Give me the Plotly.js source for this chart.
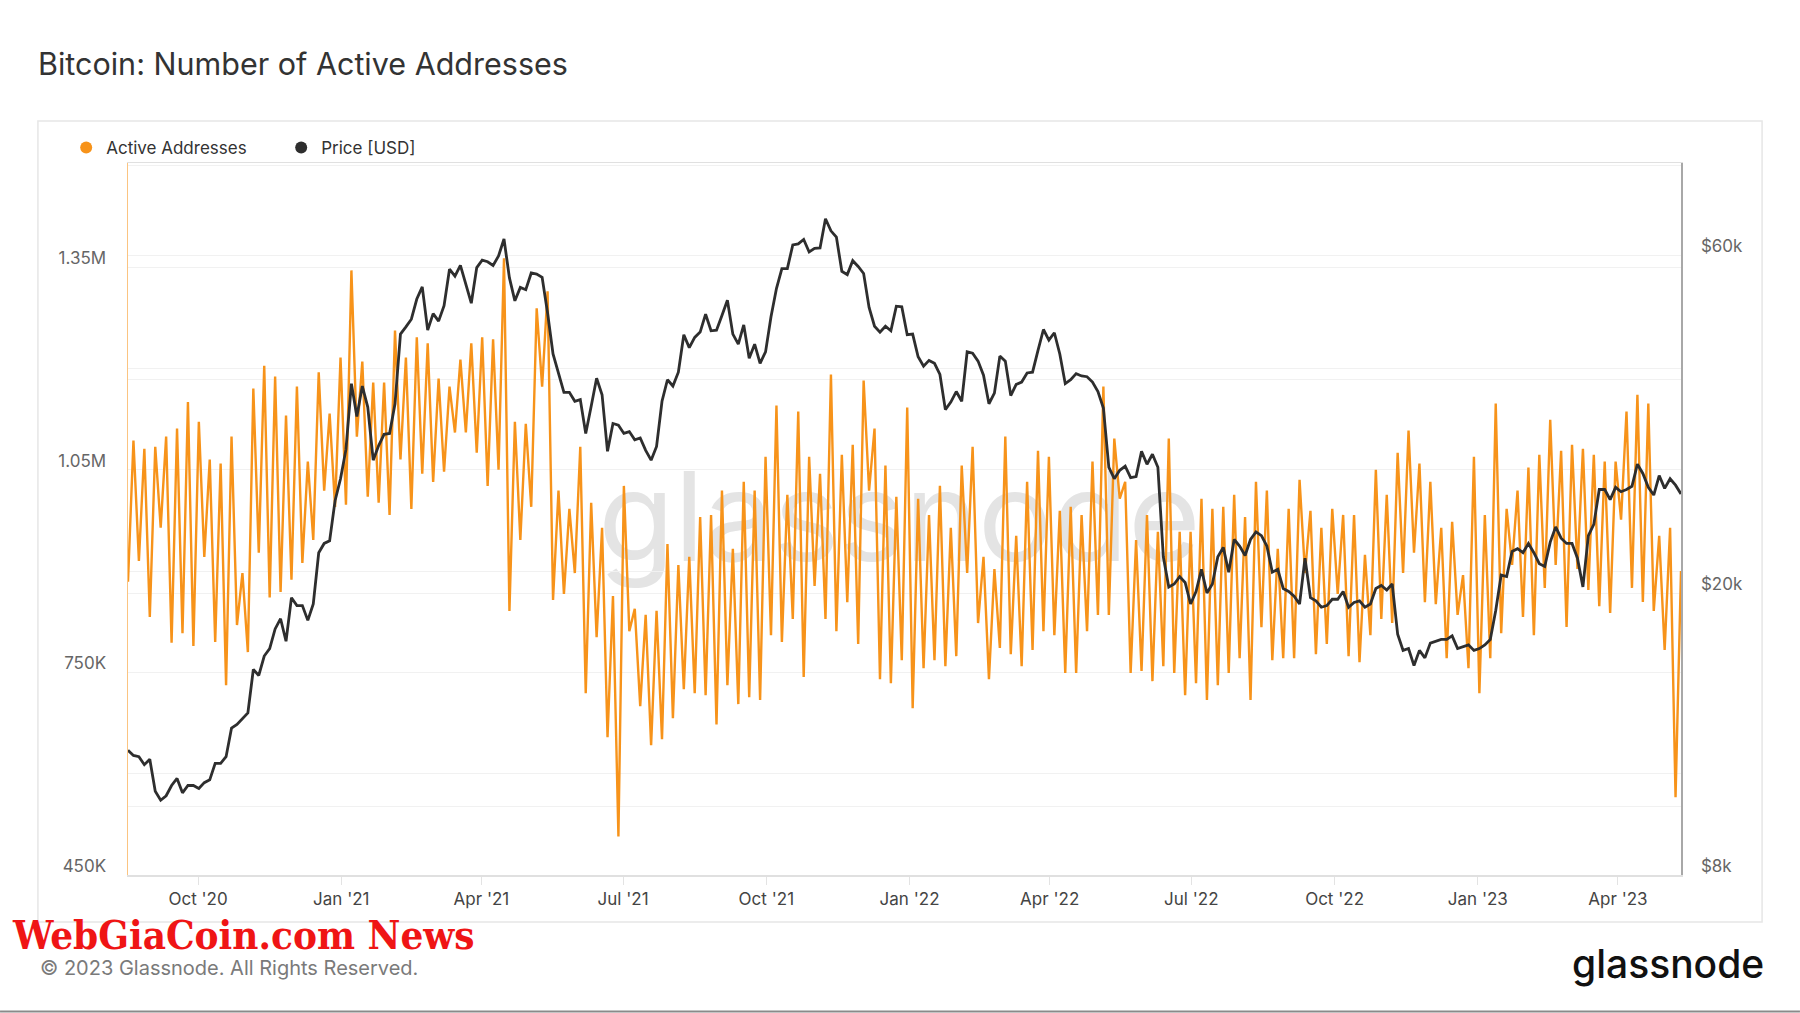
<!DOCTYPE html>
<html>
<head>
<meta charset="utf-8">
<script src="https://cdn.plot.ly/plotly-3.0.1.min.js"></script>
<style>
  html, body { margin: 0; padding: 0; background: #ffffff; }
  #chart { width: 1800px; height: 1013px; }
</style>
</head>
<body>
<div id="chart"></div>
<script>
// ---- Data (sampled twice a week, starting 2020-08-17) ----
const seriesStart = Date.UTC(2020, 7, 17);
const seriesStepDays = 3.5;

// Bitcoin active addresses, thousands (weekend trough / weekday peak alternating)
const activeAddressesK = [
  884,1093,915,1081,832,1084,964,1099,794,1111,808,1150,789,1121,921,1065,795,1059,731,1099,
  820,897,780,1170,927,1204,861,1188,869,1130,887,1173,912,1062,946,1194,1019,1133,995,1216,
  998,1345,1099,1210,1010,1179,1001,1179,983,1256,1065,1216,992,1246,1044,1237,1032,1185,1047,1173,
  1105,1213,1105,1237,1075,1246,1026,1243,1050,1363,841,1121,946,1118,995,1289,1173,1314,857,1019,
  866,992,897,1084,719,1001,802,964,654,863,507,1026,811,844,700,835,642,841,651,940,
  682,909,725,921,719,980,716,983,673,1019,731,933,703,1032,713,1019,709,1069,805,1145,
  795,1013,829,1136,743,1069,878,1044,829,1191,811,1072,854,1087,792,1182,1019,1111,740,1056,
  734,1010,768,1142,697,1007,756,983,768,1026,759,964,774,1056,897,1084,823,921,740,903,
  786,1099,777,952,759,1032,783,1078,811,1069,805,989,749,995,749,983,811,1062,835,1173,
  835,1096,1007,1032,749,946,752,983,737,958,759,1096,749,958,716,958,734,1007,709,992,
  731,995,749,1013,771,980,709,1032,817,1019,768,933,771,992,771,1035,897,989,777,964,
  792,992,866,983,774,983,765,924,805,1050,829,1013,823,1075,897,1108,927,1059,854,1032,
  851,964,771,973,835,894,756,1069,719,983,771,1148,808,992,909,1019,832,1053,805,1072,
  875,1124,909,1078,817,1087,903,1081,872,1072,848,1062,838,1062,976,1136,875,1161,854,1148,
  841,952,783,964,565,900
];

// Bitcoin price, thousands of USD
const priceUsdK = [
  12.0,11.8,11.75,11.45,11.65,10.5,10.2,10.35,10.7,10.95,10.45,10.7,10.7,10.6,10.8,10.9,11.5,11.5,11.75,12.9,
  13.05,13.3,13.55,15.6,15.3,16.3,16.7,17.8,18.4,17.1,19.7,19.2,19.2,18.3,19.3,22.8,23.5,23.7,27.0,29.0,
  31.9,39.5,35.5,39.2,36.6,30.8,32.3,33.5,33.6,37.0,46.4,47.5,48.7,52.0,54.1,47.0,49.6,48.4,50.9,57.3,
  56.0,58.0,54.5,51.3,57.6,59.0,58.7,58.0,59.8,63.2,55.7,51.7,54.0,53.6,56.6,56.4,55.8,49.7,43.5,40.7,
  38.4,38.4,37.3,37.5,33.6,36.7,40.2,38.1,31.7,34.7,34.5,33.6,33.8,32.9,33.1,31.8,30.8,32.2,37.3,40.0,
  39.2,41.0,46.3,44.4,45.9,46.7,49.5,46.9,47.0,49.3,51.8,46.4,44.9,47.8,42.9,44.9,42.2,43.8,49.1,53.8,
  57.4,57.4,62.0,62.2,63.1,60.6,61.3,61.4,67.5,64.9,63.6,56.9,56.3,58.9,57.8,56.5,50.6,47.6,46.7,47.6,
  46.9,50.8,50.7,46.3,46.4,43.1,41.8,42.6,42.2,40.7,36.3,37.2,38.5,37.3,43.8,43.6,42.5,40.6,37.0,38.3,
  43.2,42.5,38.0,39.4,39.7,40.9,41.0,44.0,47.1,45.5,46.6,43.5,39.5,40.0,40.8,40.5,40.4,39.7,38.5,36.5,
  30.1,29.0,29.8,30.2,29.1,29.2,31.7,30.4,31.4,30.1,22.5,20.4,20.6,21.1,20.7,19.3,20.1,21.6,20.0,20.6,
  22.5,23.2,21.4,23.8,23.3,22.6,23.8,24.4,24.1,23.3,21.4,21.6,20.3,20.1,19.8,19.3,22.4,19.7,19.5,19.1,
  19.2,19.6,19.6,20.1,19.1,19.4,19.5,19.1,19.3,20.3,20.5,20.2,20.6,17.5,16.6,16.7,15.8,16.6,16.2,17.0,
  17.1,17.2,17.2,17.4,16.7,16.8,16.9,16.6,16.7,16.9,17.2,18.9,21.2,21.1,22.9,23.1,22.8,23.5,22.8,22.0,
  21.8,23.6,24.8,23.9,23.5,23.5,22.4,20.4,24.1,25.0,28.0,28.0,27.1,28.2,27.8,28.0,28.3,30.4,29.5,28.2,
  27.5,29.3,28.1,29.0,28.4,27.6
];

const xTickDates = ['2020-10-01','2021-01-01','2021-04-01','2021-07-01','2021-10-01','2022-01-01',
                    '2022-04-01','2022-07-01','2022-10-01','2023-01-01','2023-04-01'];
const xTickLabels = ["Oct '20","Jan '21","Apr '21","Jul '21","Oct '21","Jan '22",
                     "Apr '22","Jul '22","Oct '22","Jan '23","Apr '23"];
const xRange = ['2020-08-17', '2023-05-11 12:00'];

const leftTickVals = [450000, 750000, 1050000, 1350000];
const leftTickText = ['450K', '750K', '1.05M', '1.35M'];
const leftMinorVals = [600000, 900000, 1200000, 1500000];
const leftRange = [450000, 1504000];

const rightTickVals = [8000, 20000, 60000];
const rightTickText = ['$8k', '$20k', '$60k'];
const rightMinorVals = [10000, 40000];
const rightRange = [Math.log10(8000), 4.908];

// ---- Build ----
function fmtDate(ms) {
  return new Date(ms).toISOString().slice(0, 19).replace('T', ' ');
}
const sampleDates = activeAddressesK.map((_, i) => fmtDate(seriesStart + i * seriesStepDays * 86400000));

const ORANGE = '#f7931a';
const DARK = '#2e2e2e';
const FONT = 'Inter, "Noto Sans", sans-serif';

const traces = [
  { x: [null], y: [null], type: 'scatter', mode: 'markers', name: 'Active Addresses',
    marker: { color: ORANGE, size: 12 }, showlegend: true, hoverinfo: 'skip' },
  { x: [null], y: [null], type: 'scatter', mode: 'markers', name: 'Price [USD]',
    marker: { color: DARK, size: 12 }, showlegend: true, hoverinfo: 'skip' },
  { x: sampleDates, y: activeAddressesK.map(v => v * 1000), type: 'scatter', mode: 'lines',
    name: 'Active Addresses', line: { color: ORANGE, width: 2.4 }, showlegend: false, yaxis: 'y' },
  { x: sampleDates, y: priceUsdK.map(v => v * 1000), type: 'scatter', mode: 'lines',
    name: 'Price [USD]', line: { color: DARK, width: 2.8 }, showlegend: false, yaxis: 'y2' }
];

const layout = {
  width: 1800, height: 1013, autosize: false,
  margin: { l: 128, r: 119, t: 163, b: 138, pad: 0 },
  paper_bgcolor: '#ffffff', plot_bgcolor: '#ffffff',
  font: { family: FONT, color: '#555', size: 17 },
  hovermode: false,
  title: {
    text: 'Bitcoin: Number of Active Addresses',
    font: { family: FONT, size: 30.5, color: '#333', weight: 400 },
    x: 38 / 1800, xanchor: 'left', xref: 'container',
    y: 1 - 64 / 1013, yanchor: 'middle', yref: 'container'
  },
  legend: {
    orientation: 'h', x: -0.0398, xanchor: 'left', y: 1.021, yanchor: 'middle',
    font: { family: FONT, size: 17, color: '#333' },
    bgcolor: 'rgba(0,0,0,0)', itemclick: false, entrywidth: 170, entrywidthmode: 'pixels'
  },
  xaxis: {
    type: 'date', range: xRange,
    tickmode: 'array', tickvals: xTickDates, ticktext: xTickLabels,
    ticks: 'outside', ticklen: 8, tickcolor: '#e3e3e3', tickwidth: 1,
    tickfont: { family: FONT, size: 17, color: '#444' },
    showgrid: false, zeroline: false,
    showline: true, linecolor: '#e0e0e0', linewidth: 1.5, mirror: true
  },
  yaxis: {
    range: leftRange, tickmode: 'array', tickvals: leftTickVals, ticktext: leftTickText,
    minor: { tickmode: 'array', tickvals: leftMinorVals, showgrid: true, gridcolor: '#f1f1f1', gridwidth: 1, ticks: '' },
    showgrid: true, gridcolor: '#f1f1f1', gridwidth: 1, zeroline: false,
    ticks: '', ticklabelstandoff: 17, ticklabelshift: -9,
    tickfont: { family: FONT, size: 17, color: '#666' },
    showline: true, linecolor: 'rgba(247,147,26,0.55)', linewidth: 1.5
  },
  yaxis2: {
    type: 'log', overlaying: 'y', side: 'right', range: rightRange,
    tickmode: 'array', tickvals: rightTickVals, ticktext: rightTickText,
    minor: { tickmode: 'array', tickvals: rightMinorVals, showgrid: true, gridcolor: '#f1f1f1', gridwidth: 1, ticks: '' },
    showgrid: true, gridcolor: '#f1f1f1', gridwidth: 1, zeroline: false,
    ticks: '', ticklabelstandoff: 15, ticklabelshift: -9,
    tickfont: { family: FONT, size: 17, color: '#666' },
    showline: true, linecolor: '#a8a8a8', linewidth: 1.5
  },
  shapes: [
    // outer card
    { type: 'rect', xref: 'paper', yref: 'paper', x0: -0.058, x1: 1.0522, y0: -0.066, y1: 1.059,
      line: { color: '#e6e6e6', width: 1.5 }, fillcolor: 'rgba(0,0,0,0)', layer: 'below' },
    // bottom rule of the image
    { type: 'line', xref: 'paper', yref: 'paper', x0: -0.0824, x1: 1.0766, y0: -0.1917, y1: -0.1917,
      line: { color: '#8a8a8a', width: 2 }, layer: 'above' },
    // watermark behind the data
    { type: 'rect', xref: 'paper', yref: 'paper', x0: 0.4017, x1: 0.5917, y0: 0.49, y1: 0.53,
      line: { width: 0, color: 'rgba(0,0,0,0)' }, fillcolor: 'rgba(0,0,0,0)', layer: 'below',
      label: { text: 'glassnode', textposition: 'middle center',
               font: { family: FONT, size: 124, color: '#e4e4e4' } } }
  ],
  annotations: [
    { text: '© 2023 Glassnode. All Rights Reserved.', xref: 'paper', yref: 'paper',
      x: -0.058, xanchor: 'left', y: -0.1306, yanchor: 'middle', showarrow: false,
      font: { family: FONT, size: 20, color: '#7a7a7a' } },
    { text: 'glassnode', xref: 'paper', yref: 'paper',
      x: 1.0545, xanchor: 'right', y: -0.1236, yanchor: 'middle', showarrow: false,
      font: { family: FONT, size: 39, color: '#111', weight: 500 } },
    { text: 'WebGiaCoin.com News', xref: 'paper', yref: 'paper',
      x: -0.076, xanchor: 'left', y: -0.083, yanchor: 'middle', showarrow: false,
      font: { family: '"DejaVu Serif Condensed", "DejaVu Serif", serif', size: 40, color: '#ef1515', weight: 900 } }
  ]
};

Plotly.newPlot('chart', traces, layout, { staticPlot: true, displayModeBar: false });
</script>
</body>
</html>
